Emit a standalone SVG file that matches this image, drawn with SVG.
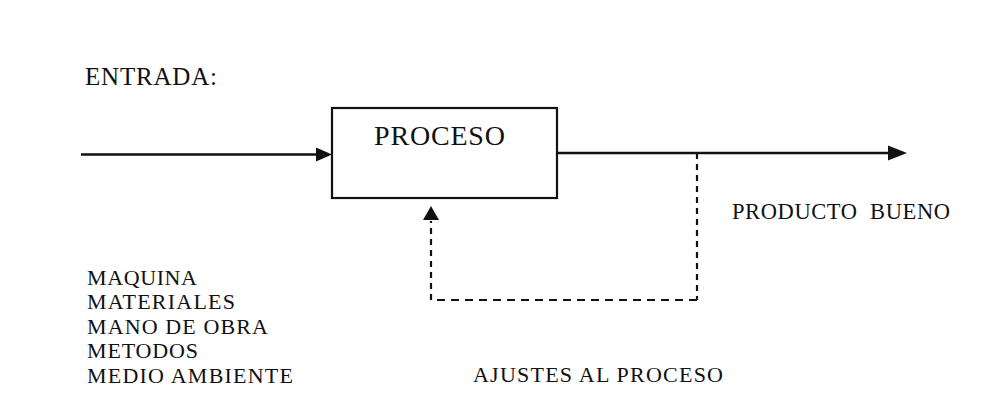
<svg xmlns="http://www.w3.org/2000/svg" width="992" height="403" viewBox="0 0 992 403">
<style>
text { font-family: "Liberation Serif", "Times New Roman", serif; fill: #111; }
.solid { stroke: #111; stroke-width: 2.4; fill: none; }
.dash { stroke: #111; stroke-width: 2.2; fill: none; }
.box { fill: #fff; stroke: #111; stroke-width: 2.2; }
.head { fill: #111; stroke: none; }
</style>
<rect width="992" height="403" fill="#fff"/>
<g id="connectors">
  <line class="solid" x1="81" y1="154.5" x2="318" y2="154.5"/>
  <polygon class="head" points="316,147.5 332,154.5 316,161.5"/>
  <line class="solid" x1="557" y1="153" x2="890" y2="153"/>
  <polygon class="head" points="888,145.5 907,153 888,160.5"/>
  <line class="dash" x1="697" y1="153" x2="697" y2="300" stroke-dasharray="6 5"/>
  <line class="dash" x1="697" y1="300" x2="431" y2="300" stroke-dasharray="8 6"/>
  <line class="dash" x1="431" y1="300" x2="431" y2="221" stroke-dasharray="6 5"/>
  <polygon class="head" points="423,220 431,206 439,220"/>
</g>
<g id="entrada">
  <text x="85" y="85" font-size="25" textLength="132" lengthAdjust="spacing">ENTRADA:</text>
</g>
<g id="proceso">
  <rect class="box" x="332" y="108" width="225" height="90"/>
  <text x="374" y="145" font-size="28" textLength="131" lengthAdjust="spacing">PROCESO</text>
</g>
<g id="producto">
  <text x="732" y="219" font-size="22.5" textLength="218" lengthAdjust="spacing" xml:space="preserve">PRODUCTO  BUENO</text>
</g>
<g id="entradas-lista" font-size="22">
  <text x="87" y="285" textLength="110" lengthAdjust="spacing">MAQUINA</text>
  <text x="87" y="309" textLength="148" lengthAdjust="spacing">MATERIALES</text>
  <text x="87" y="334" textLength="181" lengthAdjust="spacing">MANO DE OBRA</text>
  <text x="87" y="358" textLength="111" lengthAdjust="spacing">METODOS</text>
  <text x="87" y="383" textLength="206" lengthAdjust="spacing">MEDIO AMBIENTE</text>
</g>
<g id="ajustes">
  <text x="473" y="382" font-size="22" textLength="250" lengthAdjust="spacing">AJUSTES AL PROCESO</text>
</g>
</svg>
